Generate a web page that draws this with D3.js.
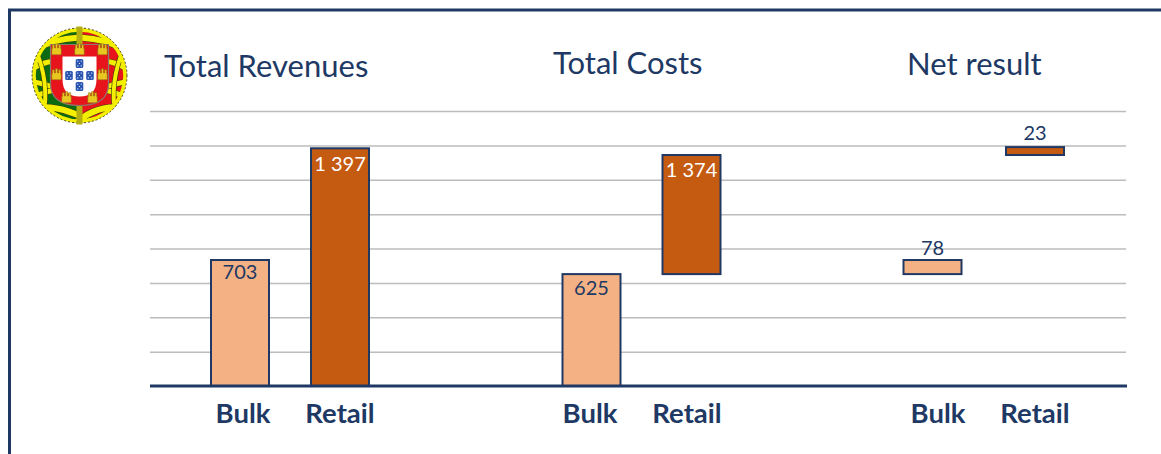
<!DOCTYPE html>
<html>
<head>
<meta charset="utf-8">
<script src="https://cdn.jsdelivr.net/npm/d3@7"></script>
<style>
  html, body { margin: 0; padding: 0; background: #fff; overflow: hidden; }
  text { font-family: Lato, "Open Sans", sans-serif; }
</style>
</head>
<body>
<svg id="chart" width="1161" height="454"></svg>
<script>
// the axis has no labels so low/high are in gridline units (200 per line)
const panels = ["Total Revenues", "Total Costs", "Net result"];
const barPanel = ["Total Revenues", "Total Revenues", "Total Costs", "Total Costs", "Net result", "Net result"];
const barCategory = ["Bulk", "Retail", "Bulk", "Retail", "Bulk", "Retail"];
const barLabels = ["703", "1 397", "625", "1 374", "78", "23"];
const barLow = [0, 0, 0, 651, 651, 1344];
const barHigh = [733, 1383, 651, 1344, 733, 1390];
const gridTicks = [0, 200, 400, 600, 800, 1000, 1200, 1400, 1600];

const navy = "#203864";
const grid = "#bcbcbc";
const barColor = { Bulk: "#f4b183", Retail: "#c55a11" };

const svg = d3.select("#chart");
const bars = barLabels.map((label, i) => ({
  key: barPanel[i] + "|" + barCategory[i],
  category: barCategory[i],
  label: label,
  low: barLow[i],
  high: barHigh[i]
}));

const y = d3.scaleLinear().domain([0, 1600]).range([386, 111]);

// panels are not evenly spaced in the original, so ordinal scales and not a band
const keys = bars.map(d => d.key);
const x = d3.scaleOrdinal().domain(keys).range([211, 311, 562.5, 662.5, 903.5, 1006]);
const xLabel = d3.scaleOrdinal().domain(keys).range([243, 340, 590, 687, 938, 1035]);
const yValue = d3.scaleOrdinal().domain(keys).range([279, 171, 295, 177, 255, 140]);
const barWidth = 58;

// frame
svg.append("path")
  .attr("d", "M9.5,454V10H1161")
  .attr("fill", "none")
  .attr("stroke", navy)
  .attr("stroke-width", 3);

// gridlines
const gridAxis = svg.append("g")
  .attr("transform", "translate(150,0)")
  .call(d3.axisLeft(y).tickValues(gridTicks).tickSize(-976).tickFormat(""));
gridAxis.select(".domain").remove();
gridAxis.selectAll("line").attr("stroke", grid).attr("stroke-width", 1.5);
gridAxis.selectAll(".tick").filter(d => d === 0).remove();

// bars
svg.selectAll(".bar")
  .data(bars)
  .enter().append("rect")
  .attr("class", "bar")
  .attr("x", d => x(d.key))
  .attr("y", d => y(d.high))
  .attr("width", barWidth)
  .attr("height", d => y(d.low) - y(d.high))
  .attr("fill", d => barColor[d.category])
  .attr("stroke", navy)
  .attr("stroke-width", 2);

// baseline
svg.append("line")
  .attr("x1", 150).attr("x2", 1127)
  .attr("y1", y(0)).attr("y2", y(0))
  .attr("stroke", navy)
  .attr("stroke-width", 3);

// value labels
svg.selectAll(".value")
  .data(bars)
  .enter().append("text")
  .attr("class", "value")
  .attr("x", d => x(d.key) + barWidth / 2)
  .attr("y", d => yValue(d.key))
  .attr("text-anchor", "middle")
  .attr("font-size", 20)
  .attr("fill", d => d.category === "Retail" && y(d.low) - y(d.high) > 40 ? "#fff" : navy)
  .text(d => d.label);

// category labels
svg.selectAll(".cat")
  .data(bars)
  .enter().append("text")
  .attr("class", "cat")
  .attr("x", d => xLabel(d.key))
  .attr("y", 423)
  .attr("text-anchor", "middle")
  .attr("font-size", 27.5)
  .attr("font-weight", 700)
  .attr("fill", navy)
  .text(d => d.category);

// panel titles
const titleX = d3.scaleOrdinal().domain(panels).range([164, 553, 907]);
const titleY = d3.scaleOrdinal().domain(panels).range([77, 74, 75]);
svg.selectAll(".title")
  .data(panels)
  .enter().append("text")
  .attr("class", "title")
  .attr("x", d => titleX(d))
  .attr("y", d => titleY(d))
  .attr("font-size", 31)
  .attr("fill", navy)
  .text(d => d);

// portuguese coat of arms, top left
const arms = svg.append("g").attr("transform", "translate(79.5,75.5)");
const clip = svg.append("clipPath").attr("id", "sphere");
clip.append("circle").attr("r", 47);
const sphere = arms.append("g").attr("clip-path", "url(#sphere)");
sphere.append("rect").attr("x", -48).attr("y", -48).attr("width", 48).attr("height", 96).attr("fill", "#0b6a12");
sphere.append("rect").attr("x", 0).attr("y", -48).attr("width", 48).attr("height", 96).attr("fill", "#e8141c");

const band = (d, w) => {
  sphere.append("path").attr("d", d).attr("fill", "none").attr("stroke", "#3c3c10").attr("stroke-width", w + 1.2);
  sphere.append("path").attr("d", d).attr("fill", "none").attr("stroke", "#f4ee00").attr("stroke-width", w);
};
band("M-48,-24Q-30,-36 0,-38Q30,-36 48,-24", 6);
band("M-48,-6Q-36,-14 -26,-14", 5);
band("M48,-6Q36,-14 26,-14", 5);
band("M-48,6Q-36,8 -26,12", 5);
band("M48,6Q36,8 26,12", 5);
band("M-46,22Q-30,14 -20,14", 5);
band("M46,22Q30,14 20,14", 5);
band("M-44,-26Q-30,6 -36,40", 4);
band("M44,-26Q30,6 36,40", 4);
band("M-40,32Q-14,30 18,50", 6);
band("M40,32Q14,30 -6,50", 6);

arms.append("circle").attr("r", 45.5).attr("fill", "none").attr("stroke", "#f4ee00").attr("stroke-width", 3.5);
arms.append("circle").attr("r", 47.5).attr("fill", "none").attr("stroke", "#4a4a20").attr("stroke-width", 1).attr("stroke-dasharray", "2 2");
arms.append("rect").attr("x", -3).attr("y", -49).attr("width", 6).attr("height", 98).attr("fill", "#b5ae10");

arms.append("path")
  .attr("d", "M-29,-31H29V8Q29,30 0,30Q-29,30 -29,8Z")
  .attr("fill", "#e8141c").attr("stroke", "#8a7a70").attr("stroke-width", 1.2);
arms.append("path")
  .attr("d", "M-17,-19H17V4Q17,21 0,21Q-17,21 -17,4Z")
  .attr("fill", "#fff");

// castles on the red border
const castle = (cx, cy) => {
  arms.append("path")
    .attr("transform", `translate(${cx},${cy}) scale(1.05)`)
    .attr("d", "M-4.5,5V-1H-4V-4.5H-2V-1.5H-1V-5.5H1V-1.5H2V-4.5H4V-1H4.5V5Z")
    .attr("fill", "#e8c820").attr("stroke", "#8a6a10").attr("stroke-width", 0.5);
};
[[-23, -26], [0, -26], [23, -26], [-23, -1], [23, -1], [-13, 22], [13, 22]]
  .forEach(p => castle(p[0], p[1]));

// the five blue quinas
[[0, -12], [-10.5, 0], [0, 0], [10.5, 0], [0, 11]].forEach(p => {
  arms.append("rect")
    .attr("x", p[0] - 3.8).attr("y", p[1] - 4.5)
    .attr("width", 7.6).attr("height", 9).attr("rx", 1.5)
    .attr("fill", "#2a55b0");
  [[-1.7, -2.4], [1.7, -2.4], [0, 0], [-1.7, 2.4], [1.7, 2.4]].forEach(q => {
    arms.append("circle")
      .attr("cx", p[0] + q[0]).attr("cy", p[1] + q[1]).attr("r", 0.6)
      .attr("fill", "#fff");
  });
});
</script>
</body>
</html>
